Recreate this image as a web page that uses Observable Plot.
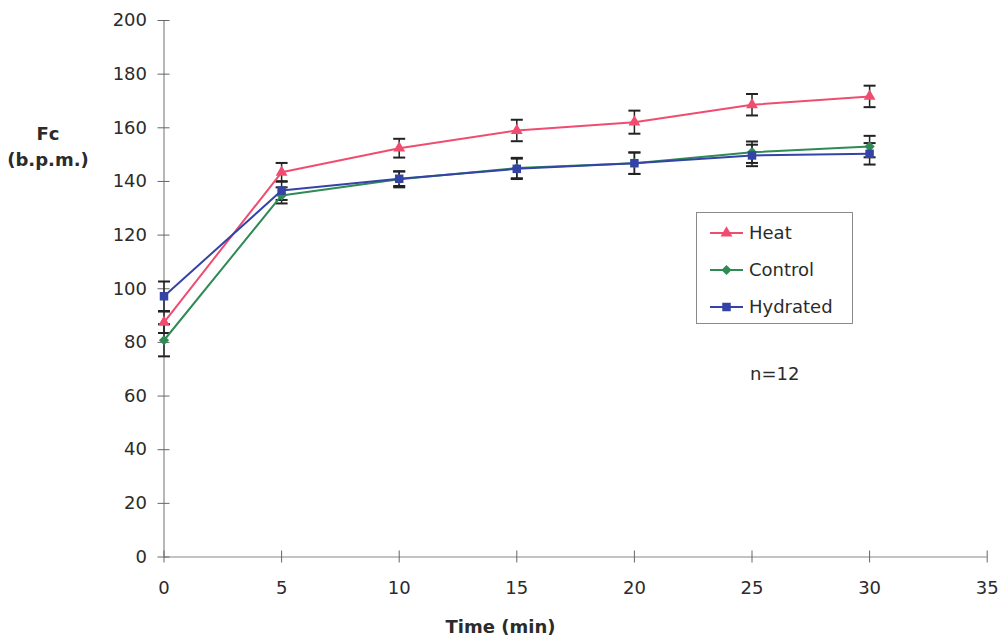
<!DOCTYPE html>
<html>
<head>
<meta charset="utf-8">
<script src="https://cdn.jsdelivr.net/npm/d3@7"></script>
<script src="https://cdn.jsdelivr.net/npm/@observablehq/plot@0.6"></script>
<style>
  html, body { margin: 0; padding: 0; background: #fff; }
  #wrap { position: relative; width: 1001px; height: 641px; font-family: "DejaVu Sans", sans-serif; color: #2b2b2b; }
  .lbl { position: absolute; font-weight: bold; font-size: 18px; line-height: 18px; color: #2b2b2b; white-space: nowrap; }
  #legend { position: absolute; left: 696px; top: 212px; width: 157px; height: 112px; border: 1px solid #8a8a8a; box-sizing: border-box; }
  .li { position: absolute; left: 13px; height: 18px; line-height: 18px; display: flex; align-items: center; font-size: 18px; color: #2b2b2b; white-space: nowrap; }
  .li svg { margin-right: 6px; display: block; }
</style>
</head>
<body>
<div id="wrap"></div>
<script>
const times = [0, 5, 10, 15, 20, 25, 30];
const seriesNames = ["Heat", "Control", "Hydrated"];
const heat = [87.5, 143.4, 152.4, 159.0, 162.1, 168.6, 171.7];
const heatErr = [4.0, 3.5, 3.5, 4.0, 4.3, 4.0, 4.0];
const control = [80.8, 134.8, 140.8, 145.0, 146.8, 150.9, 153.0];
const controlErr = [6.0, 3.0, 3.0, 3.8, 4.0, 4.0, 4.0];
const hydrated = [97.2, 136.6, 141.0, 144.7, 146.8, 149.7, 150.3];
const hydratedErr = [5.5, 3.5, 2.7, 3.8, 4.0, 4.0, 4.0];
const xTicks = [0, 5, 10, 15, 20, 25, 30, 35];
const yTicks = [0, 20, 40, 60, 80, 100, 120, 140, 160, 180, 200];

const colors = {Heat: "#f04c70", Control: "#2f8a55", Hydrated: "#3444a6"};
const symbols = {Heat: "triangle", Control: "diamond2", Hydrated: "square"};
const sizes = {Heat: 4.4, Control: 4.6, Hydrated: 4.8};

const values = {Heat: heat, Control: control, Hydrated: hydrated};
const errs = {Heat: heatErr, Control: controlErr, Hydrated: hydratedErr};
const data = [];
for (const s of ["Control", "Heat", "Hydrated"]) {
  times.forEach((t, i) => data.push({series: s, time: t, value: values[s][i], err: errs[s][i]}));
}

const capSymbol = {
  draw(ctx, size) {
    const r = Math.sqrt(size / Math.PI);
    ctx.moveTo(-r, 0);
    ctx.lineTo(r, 0);
  }
};

const marks = [
  Plot.ruleX([0], {stroke: "#888", strokeWidth: 1.2}),
  Plot.ruleY([0], {stroke: "#888", strokeWidth: 1.2}),
  Plot.axisY({ticks: yTicks, tickSize: 12, dx: 6, text: null, label: null, stroke: "#666"}),
  Plot.axisY({ticks: yTicks, tickSize: 0, tickPadding: 17, fontSize: 18, fill: "#2b2b2b", label: null}),
  Plot.axisX({ticks: xTicks, tickSize: 12, dy: -6, text: null, label: null, stroke: "#666"}),
  Plot.axisX({ticks: xTicks, tickSize: 0, tickPadding: 24, fontSize: 18, fill: "#2b2b2b", label: null}),
  Plot.ruleX(data, {x: "time", y1: d => d.value - d.err, y2: d => d.value + d.err, stroke: "#222", strokeWidth: 1.5}),
  Plot.dot(data, {x: "time", y: d => d.value - d.err, symbol: capSymbol, r: 6, stroke: "#222", strokeWidth: 2}),
  Plot.dot(data, {x: "time", y: d => d.value + d.err, symbol: capSymbol, r: 6, stroke: "#222", strokeWidth: 2})
];
for (const s of ["Control", "Heat", "Hydrated"]) {
  const sub = data.filter(d => d.series === s);
  marks.push(Plot.line(sub, {x: "time", y: "value", stroke: colors[s], strokeWidth: 2}));
  marks.push(Plot.dot(sub, {x: "time", y: "value", symbol: symbols[s], r: sizes[s], fill: colors[s], stroke: "none"}));
}

const chart = Plot.plot({
  width: 1001,
  height: 641,
  marginLeft: 163.5,
  marginRight: 14.3,
  marginTop: 20,
  marginBottom: 84.5,
  x: {domain: [0, 35]},
  y: {domain: [0, 200]},
  style: {fontFamily: "'DejaVu Sans', sans-serif", background: "#fff", overflow: "visible"},
  marks
});

const wrap = document.getElementById("wrap");
wrap.appendChild(chart);

function addLabel(text, left, top, extra) {
  const d = document.createElement("div");
  d.className = "lbl";
  d.textContent = text;
  d.style.left = left + "px";
  d.style.top = top + "px";
  if (extra) Object.assign(d.style, extra);
  wrap.appendChild(d);
  return d;
}
addLabel("Fc", 0, 125, {width: "96px", textAlign: "center"});
addLabel("(b.p.m.)", 0, 151, {width: "96px", textAlign: "center"});
addLabel("Time (min)", 400.5, 618, {width: "200px", textAlign: "center"});
addLabel("n=12", 750, 365, {fontWeight: "normal"});

const legend = document.createElement("div");
legend.id = "legend";
wrap.appendChild(legend);
const symPaths = {
  Heat: d3.symbol(d3.symbolTriangle, Math.PI * sizes.Heat * sizes.Heat)(),
  Control: d3.symbol(d3.symbolDiamond2, Math.PI * sizes.Control * sizes.Control)(),
  Hydrated: d3.symbol(d3.symbolSquare, Math.PI * sizes.Hydrated * sizes.Hydrated)()
};
seriesNames.forEach((s, i) => {
  const item = document.createElement("div");
  item.className = "li";
  item.style.top = (11 + i * 37) + "px";
  item.innerHTML = `<svg width="33" height="14"><line x1="0" y1="7" x2="33" y2="7" stroke="${colors[s]}" stroke-width="2"/><path d="${symPaths[s]}" transform="translate(16.5,7)" fill="${colors[s]}"/></svg><span>${s}</span>`;
  legend.appendChild(item);
});
</script>
</body>
</html>
